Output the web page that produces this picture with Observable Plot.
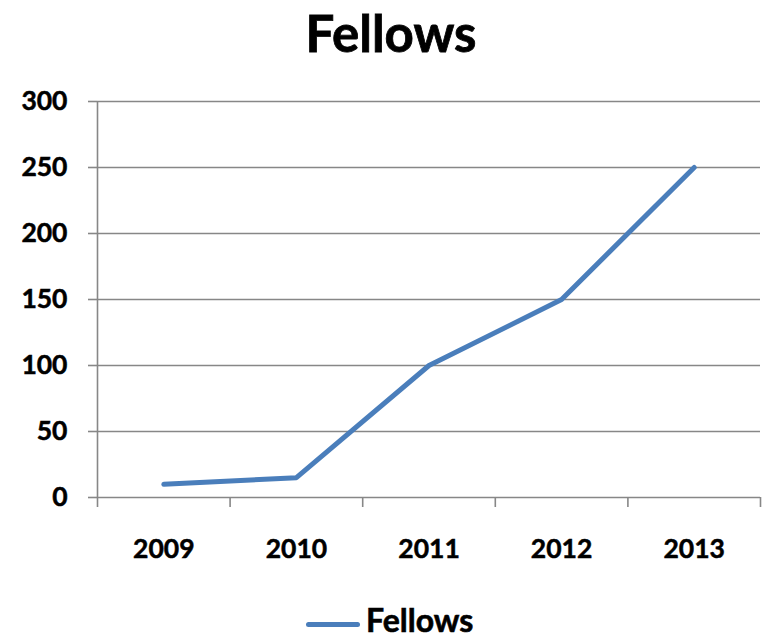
<!DOCTYPE html>
<html>
<head>
<meta charset="utf-8">
<script src="https://cdn.jsdelivr.net/npm/d3@7"></script>
<script src="https://cdn.jsdelivr.net/npm/@observablehq/plot@0.6"></script>
<style>
  html, body { margin: 0; padding: 0; background: #fff; }
  #wrap { position: relative; width: 765px; height: 640px; overflow: hidden; font-family: Lato, "Open Sans", sans-serif; font-weight: bold; color: #000; }
  #title { position: absolute; top: 0; left: 391px; transform: translateX(-50%); height: 70px; line-height: 66px; font-size: 51px; white-space: nowrap; -webkit-text-stroke: 0.8px #000; }
  #chart { position: absolute; top: 70px; left: 0; }
  #chart svg text { stroke: #000; stroke-width: 0.5px; }
  #legend-line { position: absolute; left: 306px; top: 622px; width: 54px; height: 5px; border-radius: 3px; background: #4a7ebb; }
  #legend-text { position: absolute; left: 366px; top: 604px; font-size: 32px; line-height: 32px; white-space: nowrap; -webkit-text-stroke: 0.6px #000; }
</style>
</head>
<body>
<div id="wrap">
  <div id="title">Fellows</div>
  <div id="chart"></div>
  <div id="legend-line"></div>
  <div id="legend-text">Fellows</div>
</div>
<script>
const years = [2009, 2010, 2011, 2012, 2013];
const fellows = [10, 15, 100, 150, 250];
const yTicks = [0, 50, 100, 150, 200, 250, 300];

const data = years.map((y, i) => ({year: y, value: fellows[i]}));
const boundaries = [years[0] - 0.5, ...years.map(y => y + 0.5)];
const gray = "#878787";

const plot = Plot.plot({
  width: 765,
  height: 520,
  marginTop: 31,
  marginBottom: 93,
  marginLeft: 97,
  marginRight: 5,
  style: {fontFamily: "Lato, 'Open Sans', sans-serif", fontWeight: "bold", fontSize: "26.5px", color: "#000", background: "transparent"},
  x: {domain: [boundaries[0], boundaries[boundaries.length - 1]]},
  y: {domain: [0, 300]},
  marks: [
    Plot.ruleY(yTicks, {stroke: gray, strokeWidth: 1.6, strokeOpacity: 1}),
    Plot.ruleX([boundaries[0]], {y1: 0, y2: 300, stroke: gray, strokeWidth: 1.6}),
    Plot.axisY({ticks: yTicks, tickSize: 9, tickPadding: 21, stroke: gray, strokeWidth: 1.6, strokeOpacity: 1, fill: "#000", label: null, tickFormat: d => String(d)}),
    Plot.axisX({ticks: boundaries, tickSize: 10, stroke: gray, strokeWidth: 1.6, strokeOpacity: 1, tickFormat: () => "", label: null}),
    Plot.axisX({ticks: years, tickSize: 0, tickPadding: 42, fill: "#000", tickFormat: d => String(d), label: null}),
    Plot.line(data, {x: "year", y: "value", stroke: "#4a7ebb", strokeWidth: 5, strokeLinecap: "round", strokeLinejoin: "miter"})
  ]
});
document.getElementById("chart").appendChild(plot);
</script>
</body>
</html>
